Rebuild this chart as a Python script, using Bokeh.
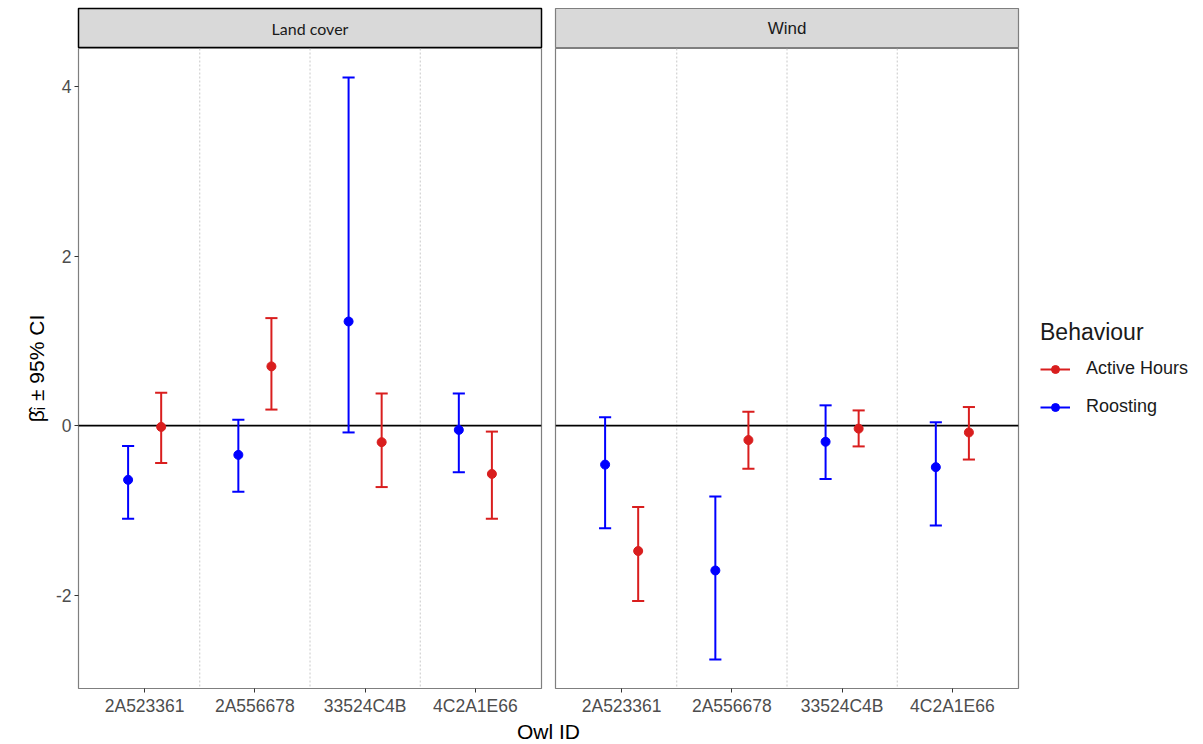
from bokeh.plotting import figure
from bokeh.layouts import row, column
from bokeh.models import (ColumnDataSource, FactorRange, Range1d, Span, Legend, LegendItem,
                          FixedTicker, Title, Label)
from bokeh.transform import dodge
from bokeh.embed import file_html
from bokeh.resources import INLINE

# ---------------- data ----------------
owls = ["2A523361", "2A556678", "33524C4B", "4C2A1E66"]
facets = ["Land cover", "Wind"]
behaviours = ["Active Hours", "Roosting"]

land_roost_est = [-0.64, -0.345, 1.23, -0.05]
land_roost_lo = [-1.10, -0.78, -0.08, -0.55]
land_roost_hi = [-0.24, 0.07, 4.11, 0.38]
land_active_est = [-0.015, 0.70, -0.195, -0.57]
land_active_lo = [-0.44, 0.19, -0.725, -1.10]
land_active_hi = [0.39, 1.27, 0.38, -0.07]

wind_roost_est = [-0.46, -1.71, -0.19, -0.49]
wind_roost_lo = [-1.21, -2.76, -0.63, -1.18]
wind_roost_hi = [0.10, -0.835, 0.24, 0.04]
wind_active_est = [-1.48, -0.17, -0.035, -0.08]
wind_active_lo = [-2.07, -0.51, -0.245, -0.40]
wind_active_hi = [-0.96, 0.165, 0.18, 0.22]

y_ticks = [-2, 0, 2, 4]
y_tick_labels = ["-2", "0", "2", "4"]

data = {
    ("Land cover", "Active Hours"): (land_active_est, land_active_lo, land_active_hi),
    ("Land cover", "Roosting"): (land_roost_est, land_roost_lo, land_roost_hi),
    ("Wind", "Active Hours"): (wind_active_est, wind_active_lo, wind_active_hi),
    ("Wind", "Roosting"): (wind_roost_est, wind_roost_lo, wind_roost_hi),
}

colors = {"Active Hours": "#D91E1E", "Roosting": "#0000FF"}
offsets = {"Active Hours": 0.15, "Roosting": -0.15}
CAP = 0.055

allv = []
for v in data.values():
    allv += v[1] + v[2]
span = max(allv) - min(allv)
YLO, YHI = min(allv) - 0.05 * span, max(allv) + 0.05 * span

FONT = "Liberation Sans"
FW, FH = 463, 640
LEFT, GAP, RIGHT = 78, 7, 185


def style_axis(ax):
    ax.major_label_text_font = FONT
    ax.major_label_text_font_size = "17.5px"
    ax.major_label_text_color = "#4d4d4d"
    ax.major_tick_out = 4
    ax.major_tick_in = 0
    ax.major_tick_line_color = "#333333"
    ax.minor_tick_line_color = None
    ax.axis_line_color = None
    ax.major_label_standoff = 3


def make_strip(label, first):
    s = figure(frame_width=FW, frame_height=40,
               min_border_left=LEFT if first else GAP,
               min_border_right=GAP if first else RIGHT,
               min_border_top=8, min_border_bottom=0,
               x_range=Range1d(0, 1), y_range=Range1d(0, 1),
               x_axis_location=None, y_axis_location=None,
               output_backend="svg", toolbar_location=None)
    s.grid.visible = False
    s.background_fill_color = "#d9d9d9"
    s.border_fill_color = "white"
    s.outline_line_color = "black" if first else "#7f7f7f"
    s.outline_line_width = 1.5 if first else 1.2
    s.add_layout(Label(x=0.5, y=0.5, text=label, text_align="center", text_baseline="middle",
                       text_font="Lato" if first else FONT,
                       text_font_size="16px" if first else "17px",
                       text_color="#1a1a1a"))
    return s


def make_panel(facet, first):
    p = figure(x_range=FactorRange(factors=owls, range_padding=0.05),
               y_range=Range1d(YLO, YHI),
               frame_width=FW, frame_height=FH,
               min_border_left=LEFT if first else GAP,
               min_border_right=GAP if first else RIGHT,
               min_border_top=0, min_border_bottom=30,
               y_axis_location="left" if first else None,
               output_backend="svg", toolbar_location=None)
    p.grid.visible = False
    p.outline_line_color = "#7f7f7f"
    p.outline_line_width = 1.2
    style_axis(p.xaxis[0])
    if first:
        p.yaxis.ticker = FixedTicker(ticks=y_ticks)
        p.yaxis.major_label_overrides = dict(zip(y_ticks, y_tick_labels))
        style_axis(p.yaxis[0])
        p.add_layout(Title(text="\u03b2\u0302\u1d62 \u00b1 95% CI", align="center",
                           text_font=FONT, text_font_size="21px", text_font_style="normal",
                           text_color="black", offset=-8), "left")
    for k in range(1, len(owls)):
        p.add_layout(Span(location=k, dimension="height", line_color="#c8c8c8",
                          line_dash="2 2", line_width=1, level="underlay"))
    p.add_layout(Span(location=0, dimension="width", line_color="black",
                      line_width=1.6, level="underlay"))
    items = []
    for b in behaviours:
        est, lo, hi = data[(facet, b)]
        src = ColumnDataSource(dict(owl=owls, est=est, lo=lo, hi=hi))
        off = offsets[b]
        c = colors[b]
        stem = p.segment(x0=dodge("owl", off, range=p.x_range), y0="lo",
                         x1=dodge("owl", off, range=p.x_range), y1="hi",
                         source=src, line_color=c, line_width=2)
        for col in ("lo", "hi"):
            p.segment(x0=dodge("owl", off - CAP, range=p.x_range), y0=col,
                      x1=dodge("owl", off + CAP, range=p.x_range), y1=col,
                      source=src, line_color=c, line_width=2)
        pts = p.scatter(x=dodge("owl", off, range=p.x_range), y="est", source=src,
                        size=9, fill_color=c, line_color=c)
        items.append(LegendItem(label=b, renderers=[stem, pts]))
    if not first:
        leg = Legend(items=items, location="center_left", title="Behaviour",
                     title_text_font=FONT, title_text_font_size="23px",
                     title_text_font_style="normal", title_text_color="#1a1a1a",
                     title_standoff=12,
                     label_text_font=FONT, label_text_font_size="18px",
                     label_text_color="#1a1a1a",
                     glyph_width=30, glyph_height=20, label_height=20,
                     label_standoff=16, spacing=17, padding=4, margin=22,
                     border_line_color=None, background_fill_alpha=0)
        p.add_layout(leg, "right")
    return p


s1 = make_strip(facets[0], True)
s2 = make_strip(facets[1], False)
p1 = make_panel(facets[0], True)
p2 = make_panel(facets[1], False)

xl = figure(frame_width=FW * 2 + 2 * GAP, frame_height=26,
            min_border_left=LEFT, min_border_right=RIGHT, min_border_top=0, min_border_bottom=0,
            x_range=Range1d(0, 1), y_range=Range1d(0, 1),
            x_axis_location=None, y_axis_location=None,
            output_backend="svg", toolbar_location=None)
xl.grid.visible = False
xl.outline_line_color = None
xl.add_layout(Label(x=0.5, y=0.5, text="Owl ID", text_align="center", text_baseline="middle",
                    text_font=FONT, text_font_size="21px", text_color="black"))

layout = column(row(s1, s2), row(p1, p2), xl)
open("out.html", "w").write(file_html(layout, INLINE))
